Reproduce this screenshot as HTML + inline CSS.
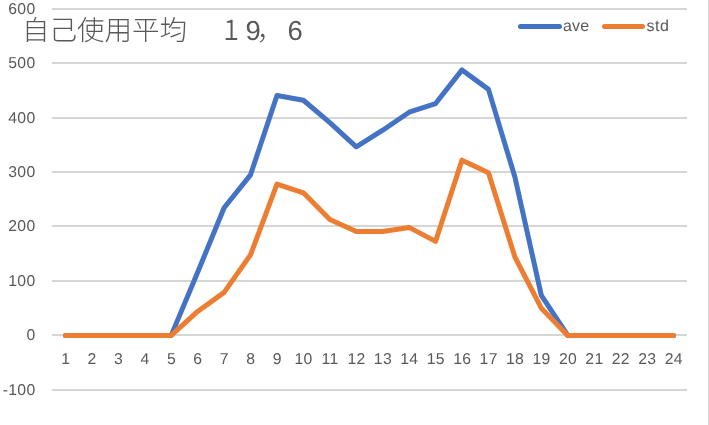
<!DOCTYPE html>
<html><head><meta charset="utf-8"><title>chart</title>
<style>
html,body{margin:0;padding:0;background:#fff;}
body{width:709px;height:425px;overflow:hidden;}
svg{display:block;will-change:transform;text-rendering:geometricPrecision;}
.ax{font-family:"Liberation Sans","Noto Sans CJK JP",sans-serif;font-size:15.75px;fill:#595959;letter-spacing:0.3px;}
.lg{font-family:"Liberation Sans","Noto Sans CJK JP",sans-serif;font-size:16px;fill:#595959;letter-spacing:0.2px;}
.tt{font-family:"Liberation Sans","Noto Sans CJK JP",sans-serif;font-size:27.5px;fill:#595959;font-weight:300;}
</style></head><body>
<svg width="709" height="425" viewBox="0 0 709 425">
<rect x="0" y="0" width="709" height="425" fill="#ffffff"/>
<rect x="708" y="0" width="1" height="425" fill="#d9d9d9"/>
<rect x="52" y="8" width="635" height="2" fill="#d6d6d6"/>
<rect x="52" y="62" width="635" height="2" fill="#d6d6d6"/>
<rect x="52" y="117" width="635" height="2" fill="#d6d6d6"/>
<rect x="52" y="171" width="635" height="2" fill="#d6d6d6"/>
<rect x="52" y="225" width="635" height="2" fill="#d6d6d6"/>
<rect x="52" y="280" width="635" height="2" fill="#d6d6d6"/>
<rect x="52" y="334" width="635" height="2" fill="#d6d6d6"/>
<rect x="52" y="389" width="635" height="2" fill="#d6d6d6"/>
<text class="ax" x="35.5" y="13.7" text-anchor="end">600</text>
<text class="ax" x="35.5" y="68.1" text-anchor="end">500</text>
<text class="ax" x="35.5" y="122.5" text-anchor="end">400</text>
<text class="ax" x="35.5" y="176.9" text-anchor="end">300</text>
<text class="ax" x="35.5" y="231.3" text-anchor="end">200</text>
<text class="ax" x="35.5" y="285.7" text-anchor="end">100</text>
<text class="ax" x="35.5" y="340.1" text-anchor="end">0</text>
<text class="ax" x="35.5" y="394.5" text-anchor="end">-100</text>
<text class="ax" x="65.70" y="363.7" text-anchor="middle">1</text>
<text class="ax" x="92.13" y="363.7" text-anchor="middle">2</text>
<text class="ax" x="118.57" y="363.7" text-anchor="middle">3</text>
<text class="ax" x="145.00" y="363.7" text-anchor="middle">4</text>
<text class="ax" x="171.44" y="363.7" text-anchor="middle">5</text>
<text class="ax" x="197.87" y="363.7" text-anchor="middle">6</text>
<text class="ax" x="224.31" y="363.7" text-anchor="middle">7</text>
<text class="ax" x="250.74" y="363.7" text-anchor="middle">8</text>
<text class="ax" x="277.18" y="363.7" text-anchor="middle">9</text>
<text class="ax" x="303.61" y="363.7" text-anchor="middle">10</text>
<text class="ax" x="330.05" y="363.7" text-anchor="middle">11</text>
<text class="ax" x="356.48" y="363.7" text-anchor="middle">12</text>
<text class="ax" x="382.92" y="363.7" text-anchor="middle">13</text>
<text class="ax" x="409.35" y="363.7" text-anchor="middle">14</text>
<text class="ax" x="435.79" y="363.7" text-anchor="middle">15</text>
<text class="ax" x="462.22" y="363.7" text-anchor="middle">16</text>
<text class="ax" x="488.66" y="363.7" text-anchor="middle">17</text>
<text class="ax" x="515.09" y="363.7" text-anchor="middle">18</text>
<text class="ax" x="541.53" y="363.7" text-anchor="middle">19</text>
<text class="ax" x="567.96" y="363.7" text-anchor="middle">20</text>
<text class="ax" x="594.40" y="363.7" text-anchor="middle">21</text>
<text class="ax" x="620.83" y="363.7" text-anchor="middle">22</text>
<text class="ax" x="647.27" y="363.7" text-anchor="middle">23</text>
<text class="ax" x="673.70" y="363.7" text-anchor="middle">24</text>
<polyline fill="none" stroke="#4472c4" stroke-width="5" stroke-linecap="round" stroke-linejoin="round" points="65.50,335.40 91.93,335.40 118.37,335.40 144.80,335.40 171.24,335.40 197.67,272.26 224.11,207.76 250.54,174.83 276.98,95.58 303.41,100.26 329.85,122.58 356.28,146.80 382.72,130.20 409.15,112.24 435.59,103.53 462.02,69.89 488.46,89.38 514.89,177.01 541.33,295.34 567.76,335.40 594.20,335.40 620.63,335.40 647.07,335.40 673.50,335.40"/>
<polyline fill="none" stroke="#ed7d31" stroke-width="5" stroke-linecap="round" stroke-linejoin="round" points="65.50,335.40 91.93,335.40 118.37,335.40 144.80,335.40 171.24,335.40 197.67,311.45 224.11,292.40 250.54,254.84 276.98,184.08 303.41,192.79 329.85,219.46 356.28,231.44 382.72,231.44 409.15,227.41 435.59,241.34 462.02,160.14 488.46,172.65 514.89,257.02 541.33,308.19 567.76,335.40 594.20,335.40 620.63,335.40 647.07,335.40 673.50,335.40"/>
<text class="tt" y="39.5"><tspan x="22">自己使用平均</tspan><tspan x="245.5">9</tspan><tspan x="256.5">，</tspan><tspan x="287.5">6</tspan></text>
<text class="tt" style="font-weight:400" transform="translate(231.3 39.5) scale(0.8 1)" x="0" y="0" text-anchor="middle">１</text>
<line x1="520.5" y1="26.5" x2="559.5" y2="26.5" stroke="#4472c4" stroke-width="5" stroke-linecap="round"/>
<text class="lg" x="563" y="31.3">ave</text>
<line x1="604.5" y1="26.5" x2="642.5" y2="26.5" stroke="#ed7d31" stroke-width="5" stroke-linecap="round"/>
<text class="lg" x="646.5" y="31.3" style="letter-spacing:0.5px">std</text>
</svg>
</body></html>
